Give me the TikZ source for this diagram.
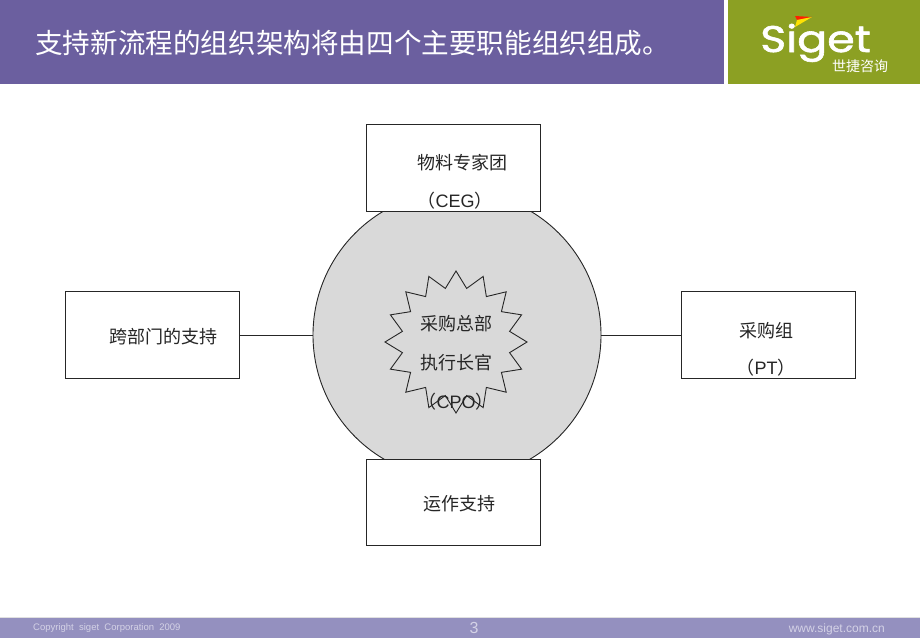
\documentclass[tikz,border=0pt]{standalone}
\usepackage{fontspec}
\usepackage{xcolor}
\usetikzlibrary{shapes.geometric}
\setmainfont{Liberation Sans}
\newfontfamily\cjk{Noto Sans CJK SC}
\newfontfamily\logofont[FakeBold=1.6,FakeStretch=1.2]{Poppins}
\definecolor{bandpurple}{HTML}{6B5F9F}
\definecolor{footpurple}{HTML}{9490BF}
\definecolor{logogreen}{HTML}{8CA023}
\definecolor{hubgrey}{HTML}{D9D9D9}
\definecolor{footgrey}{HTML}{D4D2E6}
\tikzset{
  unitbox/.style={rectangle, draw=black!85, fill=white, line width=0.9pt, minimum width=174pt, minimum height=86.5pt, inner sep=0pt},
  bodytext/.style={inner sep=0pt, text=black!85, font=\fontsize{18}{20}\selectfont\cjk},
  latintext/.style={inner sep=0pt, text=black!85, font=\fontsize{18}{20}\selectfont},
  foottext/.style={inner sep=0pt, text=footgrey}
}
\begin{document}
\begin{tikzpicture}[x=1pt, y=-1pt]
                    \useasboundingbox (0,0) rectangle (920,638);
                    \fill[white] (0,0) rectangle (920,638);
                    \fill[bandpurple] (0,0) rectangle (724,84);
                    \fill[logogreen] (728,0) rectangle (920,84);
                    \fill[footpurple] (0,618) rectangle (920,638);
                    \fill[black!12] (0,617) rectangle (920,618);

                    \node[inner sep=0pt, anchor=west, text=white, font=\fontsize{27.6}{30}\selectfont\cjk] (title) at (35,43) {支持新流程的组织架构将由四个主要职能组织组成。};

                    \node[inner sep=0pt, anchor=base west, text=white, font=\fontsize{37}{39}\selectfont\logofont] (logo) at (760,52) {Siget};
                    \node[inner sep=0pt, anchor=west, text=white, font=\fontsize{14}{16}\selectfont\cjk] (logocn) at (832,66) {世捷咨询};
                    \fill[red!75!orange] (795,16) -- (812,17) -- (797,20) -- cycle;
                    \fill[yellow!85!orange] (797,20) -- (812,17) -- (795,27) -- cycle;

                    \node[circle, draw=black!85, fill=hubgrey, line width=0.9pt, minimum size=288pt, inner sep=0pt] (hub) at (457,335) {};
                    \node[star, star points=16, star point ratio=1.3, draw=black!85, fill=hubgrey, line width=0.9pt, minimum size=142pt, inner sep=0pt] (cpo) at (456,342) {};

                    \node[unitbox] (ceg) at (453,168) {};
                    \node[unitbox] (left) at (152,335) {};
                    \node[unitbox] (pt) at (768,335) {};
                    \node[unitbox] (ops) at (453,502.5) {};

                    \draw[black!85, line width=0.9pt] (left) -- (hub);
                    \draw[black!85, line width=0.9pt] (hub) -- (pt);

                    \node[bodytext] (cegname) at (462,163) {物料专家团};
                    \node[latintext] (cegabbr) at (455,201) {{\cjk （}CEG{\cjk ）}};
                    \node[bodytext] (leftname) at (163,337) {跨部门的支持};
                    \node[bodytext] (ptname) at (766,331) {采购组};
                    \node[latintext] (ptabbr) at (766,368) {{\cjk （}PT{\cjk ）}};
                    \node[bodytext] (opsname) at (459,504) {运作支持};
                    \node[bodytext] (cponame) at (456,324) {采购总部};
                    \node[bodytext] (cporole) at (456,363) {执行长官};
                    \node[latintext] (cpoabbr) at (456,402) {{\cjk （}CPO{\cjk ）}};

                    \node[foottext, anchor=west, font=\fontsize{9.5}{11}\selectfont] (copy) at (33,628) {Copyright\ \ siget\ \ Corporation\ \ 2009};
                    \node[foottext, font=\fontsize{16}{18}\selectfont] (page) at (474,628) {3};
                    \node[foottext, anchor=east, font=\fontsize{12}{14}\selectfont] (web) at (885,629) {www.siget.com.cn};
                \end{tikzpicture}
\end{document}
